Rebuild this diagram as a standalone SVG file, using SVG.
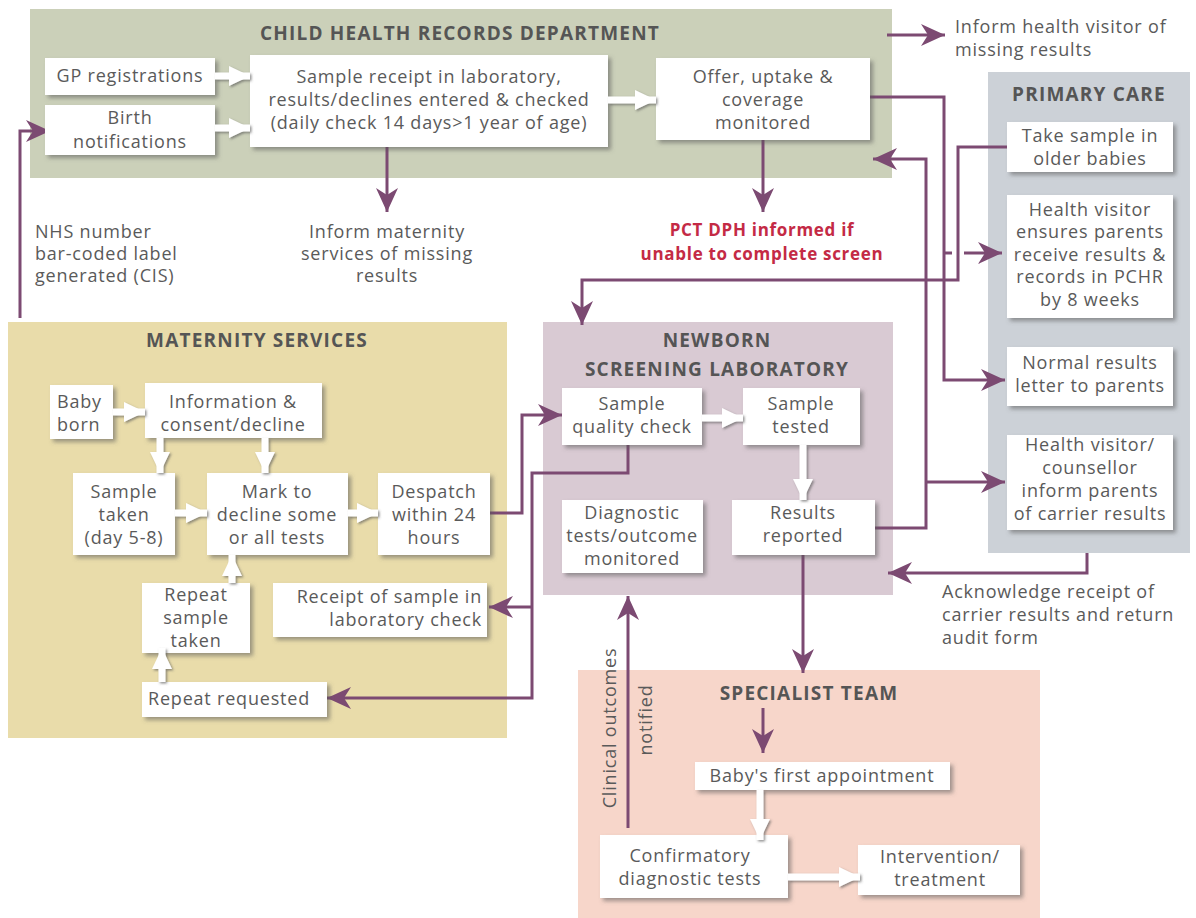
<svg xmlns="http://www.w3.org/2000/svg" width="1196" height="918" viewBox="0 0 1196 918">
<defs>
<style>
.t{font-family:"Open Sans","Liberation Sans",sans-serif;font-size:18px;fill:#5a5a5a;letter-spacing:0.8px;text-anchor:middle}
.s{text-anchor:start}
.e{text-anchor:end}
.h{font-weight:bold;font-size:19px;fill:#555;letter-spacing:1.2px}
.red{font-weight:bold;font-size:17px;fill:#c42a45;letter-spacing:0.7px}
.box{fill:#fff;filter:url(#sh)}
.pc{fill:none;stroke:#7c4a72;stroke-width:3;marker-end:url(#pa)}
.pl{fill:none;stroke:#7c4a72;stroke-width:3}
.wa{fill:none;stroke:#fff;stroke-width:7;marker-end:url(#wh)}
</style>
<filter id="sh" x="-10%" y="-10%" width="130%" height="150%"><feDropShadow dx="3" dy="3" stdDeviation="2" flood-color="#555" flood-opacity="0.55"/></filter>
<filter id="ws" x="-20%" y="-20%" width="150%" height="150%"><feDropShadow dx="1.5" dy="1.5" stdDeviation="1.3" flood-color="#555" flood-opacity="0.65"/></filter>
<marker id="pa" markerUnits="userSpaceOnUse" viewBox="0 -12 26 24" markerWidth="26" markerHeight="24" refX="24" refY="0" orient="auto"><path d="M0,-11 L24,0 L0,11 L7,0 Z" fill="#7c4a72"/></marker>
<marker id="wh" markerUnits="userSpaceOnUse" viewBox="0 -11 24 22" markerWidth="24" markerHeight="22" refX="21" refY="0" orient="auto"><path d="M0,-10 L21,0 L0,10 Z" fill="#fff"/></marker>
</defs>
<rect width="1196" height="918" fill="#fff"/>

<!-- group backgrounds -->
<g id="chrd">
<rect x="30" y="9" width="862" height="169" fill="#cbd0b9"/>
<text class="t h" x="460" y="40">CHILD HEALTH RECORDS DEPARTMENT</text>
</g>
<g id="primary-care">
<rect x="988" y="72" width="202" height="481" fill="#ccd1d7"/>
<text class="t h" x="1089" y="101">PRIMARY CARE</text>
</g>
<g id="maternity">
<rect x="8" y="322" width="499" height="416" fill="#e9dcaa"/>
<text class="t h" x="257" y="347">MATERNITY SERVICES</text>
</g>
<g id="lab">
<rect x="543" y="322" width="350" height="273" fill="#d9cad3"/>
<text class="t h" x="717" y="347">NEWBORN</text>
<text class="t h" x="717" y="376">SCREENING LABORATORY</text>
</g>
<g id="specialist">
<rect x="578" y="670" width="462" height="248" fill="#f7d6ca"/>
<text class="t h" x="809" y="700">SPECIALIST TEAM</text>
</g>

<!-- connectors -->
<g id="connectors">
<path class="pc" d="M20,318 V131 H50"/>
<path class="pc" d="M387,147 V212"/>
<path class="pc" d="M763,140 V212"/>
<path class="pc" d="M887,35 H945"/>
<path class="pc" d="M870,97 H944 V380 H1005"/>
<path class="pl" d="M944,253 H952"/>
<path class="pc" d="M964,253 H1002"/>
<path class="pc" d="M1007,147 H958 V280 H582 V325"/>
<path class="pc" d="M875,528 H926 V159 H873"/>
<path class="pc" d="M926,482 H1005"/>
<path class="pc" d="M1087,553 V573 H888"/>
<path class="pc" d="M490,513 H522 V415 H562"/>
<path class="pc" d="M628,445 V473 H532 V698 H327"/>
<path class="pc" d="M532,607 H489"/>
<path class="pc" d="M803,555 V673"/>
<path class="pc" d="M763,708 V753"/>
<path class="pc" d="M628,828 V596"/>
</g>

<!-- free labels -->
<g id="labels">
<text class="t s" x="955" y="33">Inform health visitor of</text>
<text class="t s" x="955" y="56">missing results</text>
<text class="t s" x="35" y="238">NHS number</text>
<text class="t s" x="35" y="260">bar-coded label</text>
<text class="t s" x="35" y="282">generated (CIS)</text>
<text class="t" x="387" y="238">Inform maternity</text>
<text class="t" x="387" y="260">services of missing</text>
<text class="t" x="387" y="282">results</text>
<text class="t red" x="762" y="236">PCT DPH informed if</text>
<text class="t red" x="762" y="260">unable to complete screen</text>
<text class="t s" x="942" y="598">Acknowledge receipt of</text>
<text class="t s" x="942" y="621">carrier results and return</text>
<text class="t s" x="942" y="644">audit form</text>
<text class="t" transform="translate(616,728) rotate(-90)">Clinical outcomes</text>
<text class="t" transform="translate(652,720) rotate(-90)">notified</text>
</g>

<!-- nodes -->
<g id="gp"><rect class="box" x="45" y="58" width="170" height="37"/><text class="t" x="130" y="82">GP registrations</text></g>
<g id="birth"><rect class="box" x="45" y="105" width="170" height="50"/><text class="t" x="130" y="124">Birth</text><text class="t" x="130" y="148">notifications</text></g>
<g id="receipt"><rect class="box" x="250" y="55" width="358" height="92"/><text class="t" x="429" y="83">Sample receipt in laboratory,</text><text class="t" x="429" y="106">results/declines entered &amp; checked</text><text class="t" x="429" y="129">(daily check 14 days&gt;1 year of age)</text></g>
<g id="offer"><rect class="box" x="656" y="58" width="214" height="82"/><text class="t" x="763" y="83">Offer, uptake &amp;</text><text class="t" x="763" y="106">coverage</text><text class="t" x="763" y="129">monitored</text></g>

<g id="take-sample"><rect class="box" x="1007" y="122" width="166" height="50"/><text class="t" x="1090" y="142">Take sample in</text><text class="t" x="1090" y="165">older babies</text></g>
<g id="hv-ensures"><rect class="box" x="1007" y="195" width="166" height="123"/><text class="t" x="1090" y="216">Health visitor</text><text class="t" x="1090" y="238">ensures parents</text><text class="t" x="1090" y="261">receive results &amp;</text><text class="t" x="1090" y="283">records in PCHR</text><text class="t" x="1090" y="306">by 8 weeks</text></g>
<g id="normal"><rect class="box" x="1007" y="347" width="166" height="59"/><text class="t" x="1090" y="369">Normal results</text><text class="t" x="1090" y="392">letter to parents</text></g>
<g id="hv-counsellor"><rect class="box" x="1007" y="435" width="166" height="95"/><text class="t" x="1090" y="451">Health visitor/</text><text class="t" x="1090" y="474">counsellor</text><text class="t" x="1090" y="497">inform parents</text><text class="t" x="1090" y="520">of carrier results</text></g>

<g id="baby-born"><rect class="box" x="50" y="385" width="63" height="54"/><text class="t s" x="57" y="408">Baby</text><text class="t s" x="57" y="431">born</text></g>
<g id="info"><rect class="box" x="145" y="383" width="177" height="55"/><text class="t" x="233" y="408">Information &amp;</text><text class="t" x="233" y="431">consent/decline</text></g>
<g id="sample-taken"><rect class="box" x="73" y="473" width="102" height="82"/><text class="t" x="124" y="498">Sample</text><text class="t" x="124" y="521">taken</text><text class="t" x="124" y="544">(day 5-8)</text></g>
<g id="mark"><rect class="box" x="207" y="473" width="141" height="82"/><text class="t" x="277" y="498">Mark to</text><text class="t" x="277" y="521">decline some</text><text class="t" x="277" y="544">or all tests</text></g>
<g id="despatch"><rect class="box" x="378" y="473" width="112" height="82"/><text class="t" x="434" y="498">Despatch</text><text class="t" x="434" y="521">within 24</text><text class="t" x="434" y="544">hours</text></g>
<g id="repeat-sample"><rect class="box" x="142" y="583" width="108" height="70"/><text class="t" x="196" y="601">Repeat</text><text class="t" x="196" y="624">sample</text><text class="t" x="196" y="647">taken</text></g>
<g id="receipt-check"><rect class="box" x="273" y="583" width="214" height="54"/><text class="t e" x="482" y="603">Receipt of sample in</text><text class="t e" x="482" y="626">laboratory check</text></g>
<g id="repeat-requested"><rect class="box" x="142" y="682" width="185" height="35"/><text class="t s" x="148" y="705">Repeat requested</text></g>

<g id="quality"><rect class="box" x="562" y="388" width="140" height="57"/><text class="t" x="632" y="410">Sample</text><text class="t" x="632" y="433">quality check</text></g>
<g id="tested"><rect class="box" x="743" y="388" width="117" height="57"/><text class="t" x="801" y="410">Sample</text><text class="t" x="801" y="433">tested</text></g>
<g id="diagnostic"><rect class="box" x="562" y="500" width="141" height="73"/><text class="t" x="632" y="519">Diagnostic</text><text class="t" x="632" y="542">tests/outcome</text><text class="t" x="632" y="565">monitored</text></g>
<g id="results"><rect class="box" x="732" y="500" width="143" height="55"/><text class="t" x="803" y="519">Results</text><text class="t" x="803" y="542">reported</text></g>

<g id="first-appt"><rect class="box" x="695" y="762" width="255" height="28"/><text class="t" x="822" y="782">Baby's first appointment</text></g>
<g id="confirmatory"><rect class="box" x="600" y="835" width="188" height="63"/><text class="t" x="690" y="862">Confirmatory</text><text class="t" x="690" y="885">diagnostic tests</text></g>
<g id="intervention"><rect class="box" x="858" y="845" width="162" height="50"/><text class="t" x="940" y="863">Intervention/</text><text class="t" x="940" y="886">treatment</text></g>

<!-- white flow arrows -->
<g id="white-arrows" filter="url(#ws)">
<path class="wa" d="M215,76 H250"/>
<path class="wa" d="M215,128 H250"/>
<path class="wa" d="M608,100 H656"/>
<path class="wa" d="M113,412 H145"/>
<path class="wa" d="M160,438 V473"/>
<path class="wa" d="M265,438 V473"/>
<path class="wa" d="M175,513 H207"/>
<path class="wa" d="M348,513 H378"/>
<path class="wa" d="M232,583 V555"/>
<path class="wa" d="M162,682 V648"/>
<path class="wa" d="M702,418 H743"/>
<path class="wa" d="M803,445 V500"/>
<path class="wa" d="M760,790 V840"/>
<path class="wa" d="M788,877 H860"/>
</g>
</svg>
